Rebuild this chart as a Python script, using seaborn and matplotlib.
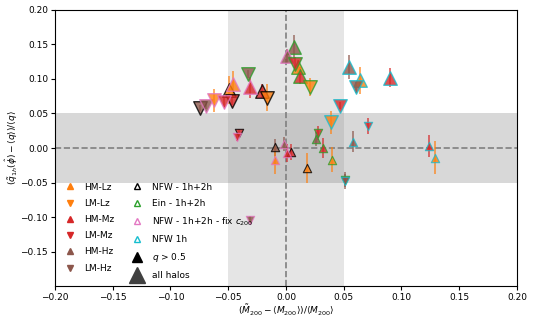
import matplotlib
matplotlib.use('Agg')
import matplotlib.pyplot as plt
import pandas as pd
import seaborn as sns
from matplotlib.lines import Line2D

# one entry per point: sample, fit model, halo subset, mass offset, q offset, q error
sample = ['LM-Hz', 'LM-Mz', 'HM-Lz', 'HM-Mz', 'LM-Lz',
          'LM-Hz', 'LM-Lz', 'LM-Mz', 'HM-Lz', 'HM-Mz', 'HM-Hz',
          'LM-Hz', 'HM-Hz', 'LM-Mz', 'HM-Lz', 'HM-Mz', 'LM-Lz',
          'HM-Hz', 'HM-Lz', 'LM-Hz', 'HM-Mz', 'LM-Mz', 'LM-Lz',
          'HM-Hz', 'LM-Mz', 'HM-Mz', 'HM-Lz',
          'LM-Mz', 'HM-Hz', 'HM-Mz', 'HM-Lz', 'LM-Hz',
          'LM-Mz', 'HM-Hz', 'HM-Mz', 'HM-Lz', 'LM-Hz',
          'LM-Mz', 'HM-Hz', 'HM-Mz', 'HM-Lz', 'LM-Hz']
model = ['NFW - 1h+2h'] * 5 + ['NFW - 1h+2h - fix c200'] * 6 + ['Ein - 1h+2h'] * 6 + ['NFW 1h'] * 6 \
    + ['NFW - 1h+2h'] * 4 + ['NFW - 1h+2h - fix c200'] * 5 + ['Ein - 1h+2h'] * 5 + ['NFW 1h'] * 5
subset = ['all halos'] * 23 + ['q > 0.5'] * 19
dm = [-0.0745, -0.047, -0.049, -0.021, -0.016,
      -0.069, -0.062, -0.054, -0.046, -0.031, 0.001,
      -0.033, 0.007, 0.008, 0.010, 0.012, 0.021,
      0.055, 0.064, 0.061, 0.090, 0.047, 0.039,
      -0.0095, -0.041, 0.004, 0.018,
      -0.042, -0.002, 0.001, -0.0095, -0.031,
      0.028, 0.026, 0.032, 0.040, 0.051,
      0.071, 0.058, 0.124, 0.129, 0.051]
dq = [0.058, 0.068, 0.084, 0.082, 0.073,
      0.061, 0.069, 0.066, 0.092, 0.088, 0.133,
      0.107, 0.146, 0.122, 0.117, 0.105, 0.088,
      0.117, 0.098, 0.088, 0.102, 0.061, 0.037,
      0.001, 0.022, -0.006, -0.029,
      0.016, 0.006, -0.007, -0.017, -0.104,
      0.022, 0.013, 0.000, -0.017, -0.046,
      0.032, 0.009, 0.003, -0.014, -0.048]
err = [0.005, 0.006, 0.02, 0.01, 0.02,
       0.005, 0.017, 0.006, 0.02, 0.015, 0.01,
       0.006, 0.017, 0.01, 0.01, 0.013, 0.013,
       0.017, 0.02, 0.008, 0.014, 0.005, 0.017,
       0.012, 0.006, 0.012, 0.022,
       0.006, 0.01, 0.013, 0.02, 0.005,
       0.01, 0.01, 0.014, 0.018, 0.011,
       0.012, 0.015, 0.016, 0.024, 0.011]

df = pd.DataFrame({'sample': sample, 'model': model, 'subset': subset,
                   'dm': dm, 'dq': dq, 'err': err})

face = {'HM-Lz': 'tab:orange', 'LM-Lz': 'tab:orange', 'HM-Mz': 'tab:red',
        'LM-Mz': 'tab:red', 'HM-Hz': 'tab:brown', 'LM-Hz': 'tab:brown'}
mark = {'HM-Lz': '^', 'LM-Lz': 'v', 'HM-Mz': '^', 'LM-Mz': 'v', 'HM-Hz': '^', 'LM-Hz': 'v'}
edge = {'NFW - 1h+2h': 'black', 'Ein - 1h+2h': 'tab:green',
        'NFW - 1h+2h - fix c200': 'tab:pink', 'NFW 1h': 'tab:cyan'}
size = {'all halos': 95, 'q > 0.5': 36}

fig, ax = plt.subplots(figsize=(5.34, 3.2), dpi=100)
plt.subplots_adjust(left=0.103, right=0.968, top=0.969, bottom=0.106)

ax.axvspan(-0.05, 0.05, color='gray', alpha=0.2, lw=0)
ax.axhspan(-0.05, 0.05, color='gray', alpha=0.3, lw=0)
ax.axvline(0, color='gray', ls='--', lw=1.2)
ax.axhline(0, color='gray', ls='--', lw=1.2)

for (s, m, sub), g in df.groupby(['sample', 'model', 'subset']):
    ax.errorbar(g['dm'], g['dq'], yerr=g['err'], fmt='none', ecolor=face[s],
                alpha=0.7, lw=1.3, zorder=2)
    sns.scatterplot(x='dm', y='dq', data=g, ax=ax, color=face[s], marker=mark[s],
                    s=size[sub], edgecolor=edge[m], linewidth=1.0 if sub == 'all halos' else 0.8,
                    alpha=0.8, zorder=3, legend=False)

ax.set_xlim(-0.2, 0.2)
ax.set_ylim(-0.2, 0.2)
ax.set_yticks([-0.15, -0.10, -0.05, 0.0, 0.05, 0.10, 0.15, 0.20])
ax.tick_params(labelsize=6.5, length=3, pad=2)
ax.set_xlabel(r'$(\tilde{M}_{200} - \langle M_{200}\rangle)/\langle M_{200}\rangle$', fontsize=6.5, labelpad=0)
ax.set_ylabel(r'$(\tilde{q}_{1h}(\hat{\phi}) - \langle q\rangle)/\langle q\rangle$', fontsize=6.5, labelpad=0)

handles = []
labels = []
for s in ['HM-Lz', 'LM-Lz', 'HM-Mz', 'LM-Mz', 'HM-Hz', 'LM-Hz']:
    handles.append(Line2D([], [], ls='', marker=mark[s], color=face[s], markersize=5))
    labels.append(s)
for m, lab in [('NFW - 1h+2h', 'NFW - 1h+2h'), ('Ein - 1h+2h', 'Ein - 1h+2h'),
               ('NFW - 1h+2h - fix c200', r'NFW - 1h+2h - fix $c_{200}$'), ('NFW 1h', 'NFW 1h')]:
    handles.append(Line2D([], [], ls='', marker='^', mfc='none', mec=edge[m], markersize=5))
    labels.append(lab)
handles.append(Line2D([], [], ls='', marker='^', color='black', markersize=7))
labels.append(r'$q$ > 0.5')
handles.append(Line2D([], [], ls='', marker='^', color='#404040', markersize=12))
labels.append('all halos')
ax.legend(handles, labels, ncol=2, loc='lower left', fontsize=6.5, frameon=False,
          labelspacing=0.8, columnspacing=1.5, handletextpad=0.6, borderaxespad=0.25)

plt.savefig('out.png', dpi=100)
